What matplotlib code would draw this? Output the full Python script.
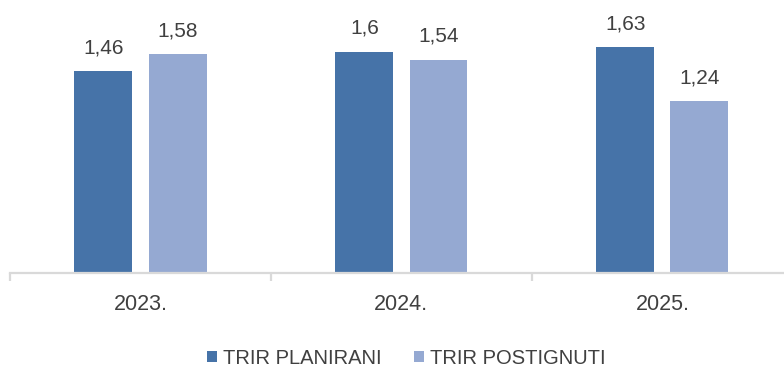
import numpy as np
import matplotlib.pyplot as plt

plt.rcParams['font.family'] = ['Liberation Sans', 'DejaVu Sans']

godine = ['2023.', '2024.', '2025.']
planirani = [1.46, 1.60, 1.63]
postignuti = [1.58, 1.54, 1.24]

boja_plan = '#4673a8'
boja_post = '#95a9d2'
tekst = '#404040'

fig = plt.figure(figsize=(7.84, 3.65), dpi=100)
# osi u pikselima: lijevo 10, dolje 92, do desnog ruba
ax = fig.add_axes([10 / 784, 92 / 365, 774 / 784, 263 / 365])

x = np.arange(len(godine))
sirina = 0.222
pomak = 0.142

b1 = ax.bar(x - pomak, planirani, sirina, color=boja_plan, label='TRIR PLANIRANI')
b2 = ax.bar(x + pomak, postignuti, sirina, color=boja_post, label='TRIR POSTIGNUTI')

for bars, vals in [(b1, planirani), (b2, postignuti)]:
    for b, v in zip(bars, vals):
        txt = ('%g' % v).replace('.', ',')
        ax.annotate(txt, (b.get_x() + b.get_width() / 2, v), xytext=(0, 10),
                    textcoords='offset points', ha='center', va='bottom',
                    fontsize=15, color=tekst)

ax.set_xlim(-0.5, 2.466)
ax.set_ylim(0, 1.9)

for s in ['top', 'right', 'left']:
    ax.spines[s].set_visible(False)
ax.spines['bottom'].set_color('#d9d9d9')
ax.spines['bottom'].set_linewidth(1.6)

ax.set_yticks([])
ax.set_xticks(x)
ax.set_xticklabels(godine, fontsize=15.5, color=tekst)
ax.tick_params(axis='x', which='major', length=0, pad=15)
ax.set_xticks([-0.5, 0.5, 1.5], minor=True)
ax.tick_params(axis='x', which='minor', length=6, width=1.6, color='#d9d9d9')

fig.legend(handles=[b1, b2], loc='center', bbox_to_anchor=(406 / 784, 7 / 365),
           ncol=2, frameon=False, fontsize=14.5, labelcolor=tekst,
           handlelength=0.5, handleheight=0.5, handletextpad=0.3,
           columnspacing=1.6)

fig.savefig('out.png', dpi=100)
